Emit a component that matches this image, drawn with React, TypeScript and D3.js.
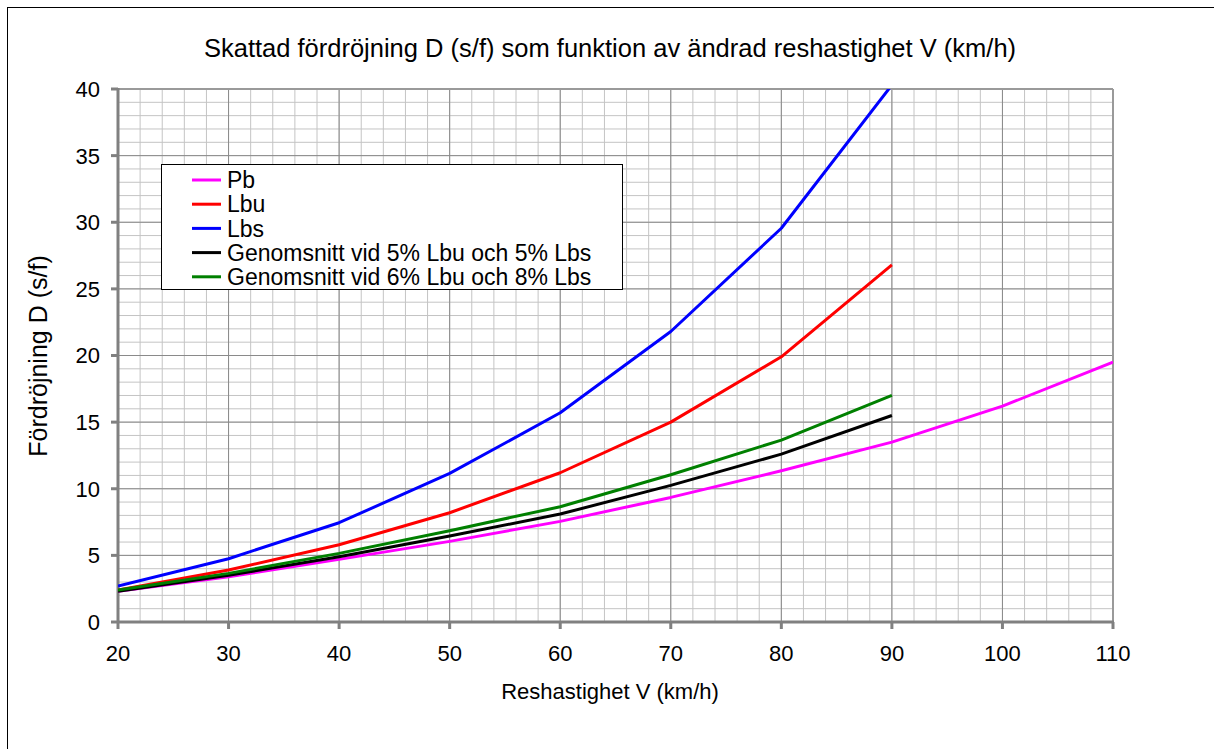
import React from "react";
import * as d3 from "d3";

const speeds = [20, 30, 40, 50, 60, 70, 80, 90];
const speedsPb = [20, 30, 40, 50, 60, 70, 80, 90, 100, 110];
const pb = [2.3, 3.4, 4.7, 6.05, 7.55, 9.35, 11.35, 13.5, 16.2, 19.5];
const lbu = [2.4, 3.9, 5.8, 8.2, 11.2, 15.0, 19.9, 26.8];
const lbs = [2.7, 4.75, 7.45, 11.15, 15.7, 21.8, 29.55, 40.3];
const avg55 = [2.3, 3.5, 4.9, 6.45, 8.1, 10.25, 12.6, 15.5];
const avg68 = [2.4, 3.65, 5.15, 6.85, 8.65, 11.05, 13.65, 17.0];

const xTicks = [20, 30, 40, 50, 60, 70, 80, 90, 100, 110];
const yTicks = [0, 5, 10, 15, 20, 25, 30, 35, 40];

const seriesNames = [
  "Pb",
  "Lbu",
  "Lbs",
  "Genomsnitt vid 5% Lbu och 5% Lbs",
  "Genomsnitt vid 6% Lbu och 8% Lbs",
];
const seriesColors = ["#ff00ff", "#ff0000", "#0000ff", "#000000", "#008000"];

const titleText = "Skattad fördröjning D (s/f) som funktion av ändrad reshastighet V (km/h)";
const xTitle = "Reshastighet V (km/h)";
const yTitle = "Fördröjning D (s/f)";

export default function App() {
  const W = 1214;
  const H = 749;
  const left = 118;
  const right = 1113;
  const top = 89;
  const bottom = 622;
  const x = d3.scaleLinear().domain([20, 110]).range([left, right]);
  const y = d3.scaleLinear().domain([0, 40]).range([bottom, top]);

  const series = [
    { xs: speedsPb, ys: pb },
    { xs: speeds, ys: lbu },
    { xs: speeds, ys: lbs },
    { xs: speeds, ys: avg55 },
    { xs: speeds, ys: avg68 },
  ];

  const line = d3
    .line<[number, number]>()
    .x((d) => x(d[0]))
    .y((d) => y(d[1]));

  const minorX = d3.range(20, 110.01, 2);
  const minorY = d3.range(0, 40.01, 1);
  const font = "'Liberation Sans', Arial, sans-serif";

  const legX = 161;
  const legY = 164;
  const legW = 461;
  const legH = 125;
  const rowH = 24.2;

  return (
    <svg
      width={W}
      height={H}
      style={{ position: "absolute", left: 0, top: 0, background: "#fff" }}
      fontFamily={font}
    >
      <rect x={0} y={0} width={W} height={H} fill="#fff" />
      <rect x={7.5} y={7.5} width={1300} height={900} fill="none" stroke="#000" strokeWidth={1} />
      <defs>
        <clipPath id="plotclip">
          <rect x={left} y={top} width={right - left} height={bottom - top} />
        </clipPath>
      </defs>
      {/* minor grid */}
      {minorY.map((v) => (
        <line key={"my" + v} x1={left} x2={right} y1={y(v)} y2={y(v)} stroke="#c4c4c4" strokeWidth={1} />
      ))}
      {minorX.map((v) => (
        <line key={"mx" + v} x1={x(v)} x2={x(v)} y1={top} y2={bottom} stroke="#c4c4c4" strokeWidth={1} />
      ))}
      {/* major grid */}
      {yTicks.map((v) => (
        <line key={"gy" + v} x1={left} x2={right} y1={y(v)} y2={y(v)} stroke="#8a8a8a" strokeWidth={1} />
      ))}
      {xTicks.map((v) => (
        <line key={"gx" + v} x1={x(v)} x2={x(v)} y1={top} y2={bottom} stroke="#8a8a8a" strokeWidth={1} />
      ))}
      {/* plot border top/right */}
      <line x1={left} x2={right} y1={top} y2={top} stroke="#9a9a9a" strokeWidth={2} />
      <line x1={right} x2={right} y1={top} y2={bottom} stroke="#9a9a9a" strokeWidth={2} />
      {/* axes */}
      <line x1={left} x2={left} y1={top - 1} y2={bottom + 1} stroke="#808080" strokeWidth={3} />
      <line x1={left - 1} x2={right + 1} y1={bottom} y2={bottom} stroke="#808080" strokeWidth={3} />
      {yTicks.map((v) => (
        <line key={"ty" + v} x1={left - 7} x2={left} y1={y(v)} y2={y(v)} stroke="#808080" strokeWidth={3} />
      ))}
      {xTicks.map((v) => (
        <line key={"tx" + v} x1={x(v)} x2={x(v)} y1={bottom} y2={bottom + 7} stroke="#808080" strokeWidth={3} />
      ))}
      {/* series */}
      <g clipPath="url(#plotclip)">
        {series.map((s, i) => (
          <path
            key={i}
            d={line(s.xs.map((xv, j) => [xv, s.ys[j]] as [number, number])) || ""}
            fill="none"
            stroke={seriesColors[i]}
            strokeWidth={3}
            strokeLinejoin="round"
          />
        ))}
      </g>
      {/* tick labels */}
      {yTicks.map((v) => (
        <text key={"ly" + v} x={100} y={y(v)} dy="0.36em" textAnchor="end" fontSize={22} fill="#000">
          {v}
        </text>
      ))}
      {xTicks.map((v) => (
        <text key={"lx" + v} x={x(v)} y={661} textAnchor="middle" fontSize={22} fill="#000">
          {v}
        </text>
      ))}
      {/* titles */}
      <text x={610} y={57} textAnchor="middle" fontSize={25.5} fill="#000">
        {titleText}
      </text>
      <text x={610} y={699} textAnchor="middle" fontSize={22} fill="#000">
        {xTitle}
      </text>
      <text
        transform={`translate(47,${356}) rotate(-90)`}
        textAnchor="middle"
        fontSize={25}
        fill="#000"
      >
        {yTitle}
      </text>
      {/* legend */}
      <rect x={legX + 0.5} y={legY + 0.5} width={legW} height={legH} fill="#fff" stroke="#000" strokeWidth={1} />
      {seriesNames.map((n, i) => {
        const cy = 180 + i * rowH;
        return (
          <g key={n}>
            <line x1={192} x2={221} y1={cy} y2={cy} stroke={seriesColors[i]} strokeWidth={3} />
            <text x={227} y={cy} dy="0.36em" fontSize={23} fill="#000">
              {n}
            </text>
          </g>
        );
      })}
    </svg>
  );
}
